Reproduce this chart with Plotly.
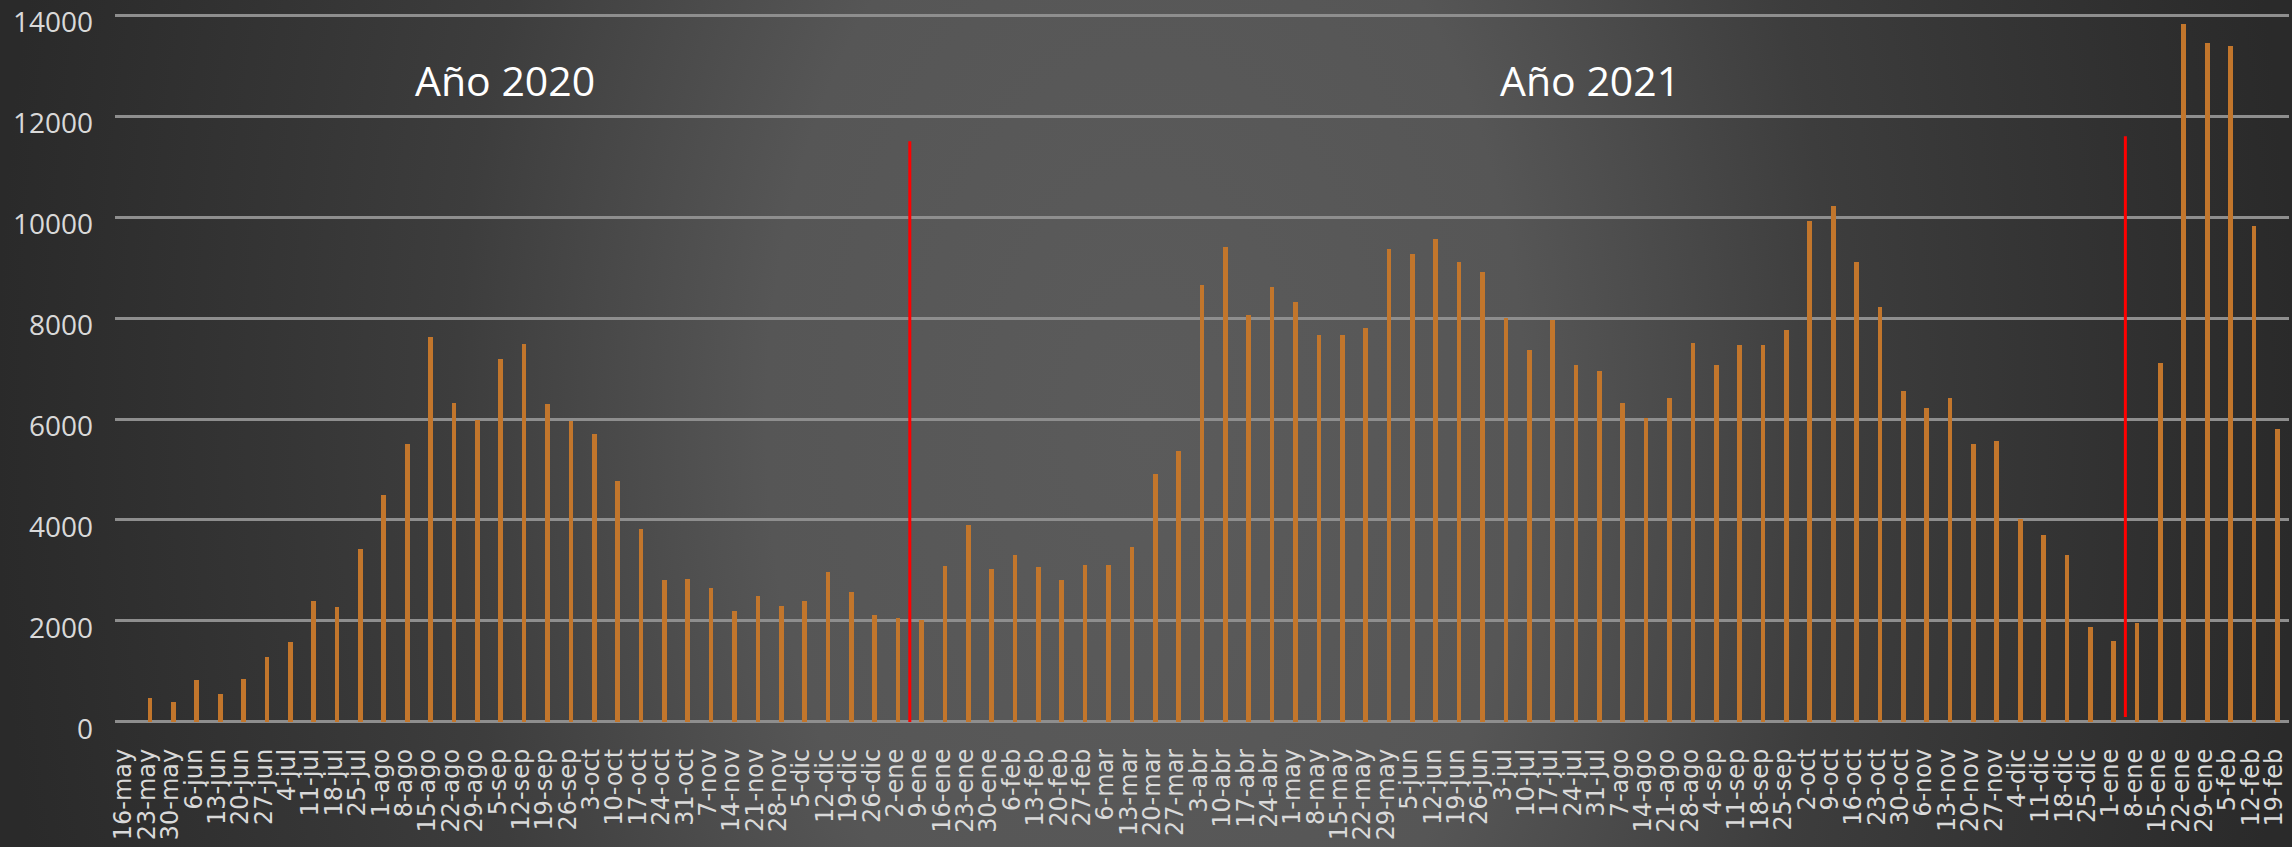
import base64
import plotly.graph_objects as go

# ---------------- data ----------------
weeks_2020 = ["16-may", "23-may", "30-may", "6-jun", "13-jun", "20-jun", "27-jun",
              "4-jul", "11-jul", "18-jul", "25-jul", "1-ago", "8-ago", "15-ago",
              "22-ago", "29-ago", "5-sep", "12-sep", "19-sep", "26-sep", "3-oct",
              "10-oct", "17-oct", "24-oct", "31-oct", "7-nov", "14-nov", "21-nov",
              "28-nov", "5-dic", "12-dic", "19-dic", "26-dic"]
values_2020 = [0, 470, 400, 830, 550, 850, 1280, 1590, 2390, 2280, 3430, 4500, 5500,
               7630, 6320, 5980, 7190, 7480, 6300, 5970, 5700, 4780, 3820, 2820,
               2840, 2660, 2190, 2490, 2290, 2400, 2980, 2570, 2110]

weeks_2021 = ["2-ene", "9-ene", "16-ene", "23-ene", "30-ene", "6-feb", "13-feb",
              "20-feb", "27-feb", "6-mar", "13-mar", "20-mar", "27-mar", "3-abr",
              "10-abr", "17-abr", "24-abr", "1-may", "8-may", "15-may", "22-may",
              "29-may", "5-jun", "12-jun", "19-jun", "26-jun", "3-jul", "10-jul",
              "17-jul", "24-jul", "31-jul", "7-ago", "14-ago", "21-ago", "28-ago",
              "4-sep", "11-sep", "18-sep", "25-sep", "2-oct", "9-oct", "16-oct",
              "23-oct", "30-oct", "6-nov", "13-nov", "20-nov", "27-nov", "4-dic",
              "11-dic", "18-dic", "25-dic"]
values_2021 = [2050, 2010, 3080, 3910, 3020, 3310, 3060, 2810, 3110, 3110, 3460,
               4910, 5360, 8660, 9410, 8060, 8610, 8310, 7660, 7660, 7810, 9360,
               9260, 9560, 9110, 8910, 8010, 7360, 7960, 7060, 6960, 6310, 6010,
               6410, 7510, 7060, 7460, 7460, 7760, 9920, 10210, 9110, 8210, 6560,
               6210, 6410, 5510, 5560, 4010, 3710, 3310, 1890]

weeks_2022 = ["1-ene", "8-ene", "15-ene", "22-ene", "29-ene", "5-feb", "12-feb", "19-feb"]
values_2022 = [1600, 1960, 7110, 13820, 13450, 13390, 9820, 5810]

categories = weeks_2020 + weeks_2021 + weeks_2022
values = values_2020 + values_2021 + values_2022

y_ticks = [0, 2000, 4000, 6000, 8000, 10000, 12000, 14000]
y_tick_text = [str(v) for v in y_ticks]

# red year-break markers: drawn just after these weeks, with these heights
break_after = ["2-ene", "1-ene"]
break_low = [0, 100]
break_high = [11500, 11600]

year_labels = ["Año 2020", "Año 2021"]

# ---------------- layout geometry ----------------
W, H = 2292, 847
M_L, M_R, M_T, M_B = 115, 3, 13, 123
PW = W - M_L - M_R
PH = H - M_T - M_B
Y_LO, Y_HI = -40, 14040

# radial-gradient background (as an SVG image)
svg = f'''<svg xmlns="http://www.w3.org/2000/svg" width="{W}" height="{H}" viewBox="0 0 {W} {H}" preserveAspectRatio="none">
<defs><radialGradient id="g" gradientUnits="userSpaceOnUse" cx="1146" cy="423" r="1150"
 gradientTransform="translate(1146,423) scale(1,1.6) translate(-1146,-423)">
<stop offset="0" stop-color="#5b5b5b"/>
<stop offset="0.33" stop-color="#565656"/>
<stop offset="0.46" stop-color="#4a4a4a"/>
<stop offset="0.6" stop-color="#3d3d3d"/>
<stop offset="0.76" stop-color="#353535"/>
<stop offset="0.93" stop-color="#2d2d2d"/>
<stop offset="1" stop-color="#2a2a2a"/>
</radialGradient></defs>
<rect x="0" y="0" width="{W}" height="{H}" fill="url(#g)"/></svg>'''
bg_uri = "data:image/svg+xml;base64," + base64.b64encode(svg.encode()).decode()

fig = go.Figure()
fig.add_trace(go.Bar(
    x=categories, y=values, width=0.2,
    marker=dict(color="#c2762c", line=dict(width=0)),
    hoverinfo="x+y",
))

shapes = []
for wk, lo, hi in zip(break_after, break_low, break_high):
    xi = categories.index(wk) + 0.5
    shapes.append(dict(type="line", xref="x", yref="y", x0=xi, x1=xi, y0=lo, y1=hi,
                       line=dict(color="#ff0000", width=3), layer="above"))

annotations = []
for txt, xp in zip(year_labels, [(505 - M_L) / PW, (1590 - M_L) / PW]):
    annotations.append(dict(text=txt, xref="paper", yref="paper", x=xp,
                            y=(H - M_B - 80) / PH, xanchor="center", yanchor="middle",
                            showarrow=False,
                            font=dict(family="Open Sans", size=41, color="#ffffff")))

fig.update_layout(
    width=W, height=H,
    margin=dict(l=M_L, r=M_R, t=M_T, b=M_B, pad=0),
    paper_bgcolor="#2a2a2a", plot_bgcolor="rgba(0,0,0,0)",
    showlegend=False, bargap=0,
    shapes=shapes, annotations=annotations,
    images=[dict(source=bg_uri, xref="paper", yref="paper",
                 x=-M_L / PW, y=1 + M_T / PH, sizex=W / PW, sizey=H / PH,
                 xanchor="left", yanchor="top", sizing="stretch", layer="below")],
    xaxis=dict(type="category", range=[-0.5, len(categories) - 0.5],
               tickmode="array", tickvals=categories, ticktext=categories,
               tickangle=-90, showgrid=False, zeroline=False, showline=False,
               ticks="", ticklabelstandoff=19, ticklabelshift=-3,
               tickfont=dict(family="DejaVu Sans", size=24, color="#d9d9d9")),
    yaxis=dict(range=[Y_LO, Y_HI], tickmode="array", tickvals=y_ticks, ticktext=y_tick_text,
               showgrid=True, gridcolor="#8e8e8e", gridwidth=3, zeroline=False,
               showline=False, ticks="", ticklabelstandoff=21, ticklabelshift=7,
               tickfont=dict(family="Open Sans", size=28, color="#d9d9d9")),
)

fig.write_html("out.html", config={"displayModeBar": False},
               post_script="document.body.style.margin='0';document.body.style.overflow='hidden';")
